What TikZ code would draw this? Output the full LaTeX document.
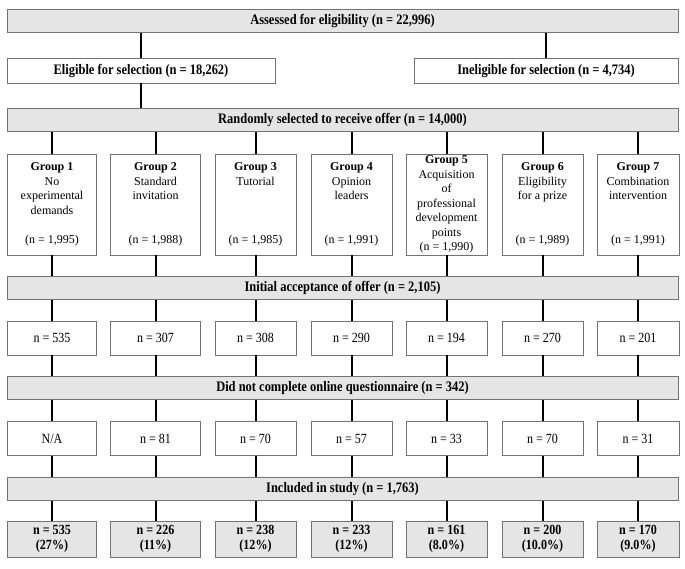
\documentclass[tikz,border=0pt]{standalone}
\usepackage{fontspec}
\setmainfont{Liberation Serif}
\newfontfamily\narrowfont[FakeStretch=0.86]{Liberation Serif}
\usepackage{tikz}

\begin{document}
\begin{tikzpicture}[x=1pt,y=-1pt,
    bar/.style={draw=black!55,fill=black!10,line width=0.8pt,inner sep=0pt,
      minimum width=671pt,minimum height=23pt,
      font=\narrowfont\bfseries\fontsize{14.5}{16}\selectfont},
    box/.style={draw=black!55,fill=white,line width=0.8pt,inner sep=0pt,
      minimum width=81pt,minimum height=34pt,align=center,
      font=\narrowfont\fontsize{14}{16}\selectfont},
    grp/.style={box,minimum height=101pt,font=\fontsize{12}{14.5}\selectfont},
    res/.style={box,fill=black!10,minimum height=36pt,
      font=\narrowfont\bfseries\fontsize{14}{15}\selectfont},
    link/.style={line width=2pt}]
  \useasboundingbox (0,0) rectangle (685,568);

  \node[bar] (assessed) at (342.5,21) {Assessed for eligibility (n = 22,996)};
  \node[bar,minimum width=268pt,minimum height=25pt,fill=white] (eligible) at (141,70.5) {Eligible for selection (n = 18,262)};
  \node[bar,minimum width=264pt,minimum height=25pt,fill=white] (ineligible) at (546,70.5) {Ineligible for selection (n = 4,734)};
  \node[bar] (randomly) at (342.5,120) {Randomly selected to receive offer (n = 14,000)};

  % groups
  \node[grp,minimum width=89pt] (grp1) at (52,204.5) {\textbf{Group 1}\\No\\experimental\\demands\\[14.5pt](n = 1,995)};
  \node[grp,minimum width=90pt] (grp2) at (155.5,204.5) {\textbf{Group 2}\\Standard\\invitation\\[29pt](n = 1,988)};
  \node[grp] (grp3) at (255.5,204.5) {\textbf{Group 3}\\Tutorial\\[43.5pt](n = 1,985)};
  \node[grp] (grp4) at (351.5,204.5) {\textbf{Group 4}\\Opinion\\leaders\\[29pt](n = 1,991)};
  \node[grp] (grp5) at (446.5,204.5) {\textbf{Group 5}\\Acquisition\\of\\professional\\development\\points\\(n = 1,990)};
  \node[grp] (grp6) at (542.5,204.5) {\textbf{Group 6}\\Eligibility\\for a prize\\[29pt](n = 1,989)};
  \node[grp,minimum width=82pt] (grp7) at (638,204.5) {\textbf{Group 7}\\Combination\\intervention\\[29pt](n = 1,991)};

  \node[bar] (accept) at (342.5,288) {Initial acceptance of offer (n = 2,105)};

  \node[box,minimum width=89pt] (acc1) at (52,338) {n = 535};
  \node[box,minimum width=90pt] (acc2) at (155.5,338) {n = 307};
  \node[box] (acc3) at (255.5,338) {n = 308};
  \node[box] (acc4) at (351.5,338) {n = 290};
  \node[box] (acc5) at (446.5,338) {n = 194};
  \node[box] (acc6) at (542.5,338) {n = 270};
  \node[box,minimum width=82pt] (acc7) at (638,338) {n = 201};

  \node[bar] (noquest) at (342.5,388) {Did not complete online questionnaire (n = 342)};

  \node[box,minimum width=89pt] (nq1) at (52,438.5) {N/A};
  \node[box,minimum width=90pt] (nq2) at (155.5,438.5) {n = 81};
  \node[box] (nq3) at (255.5,438.5) {n = 70};
  \node[box] (nq4) at (351.5,438.5) {n = 57};
  \node[box] (nq5) at (446.5,438.5) {n = 33};
  \node[box] (nq6) at (542.5,438.5) {n = 70};
  \node[box,minimum width=82pt] (nq7) at (638,438.5) {n = 31};

  \node[bar] (included) at (342.5,489) {Included in study (n = 1,763)};

  \node[res,minimum width=89pt] (inc1) at (52,539) {n = 535\\(27\%)};
  \node[res,minimum width=90pt] (inc2) at (155.5,539) {n = 226\\(11\%)};
  \node[res] (inc3) at (255.5,539) {n = 238\\(12\%)};
  \node[res] (inc4) at (351.5,539) {n = 233\\(12\%)};
  \node[res] (inc5) at (446.5,539) {n = 161\\(8.0\%)};
  \node[res] (inc6) at (542.5,539) {n = 200\\(10.0\%)};
  \node[res,minimum width=82pt] (inc7) at (638,539) {n = 170\\(9.0\%)};

  % connectors
  \draw[link] (assessed.south -| eligible.north) -- (eligible.north);
  \draw[link] (assessed.south -| ineligible.north) -- (ineligible.north);
  \draw[link] (eligible.south) -- (eligible.south |- randomly.north);
  \foreach \i in {1,...,7} {
    \draw[link] (randomly.south -| grp\i.north) -- (grp\i.north);
    \draw[link] (grp\i.south) -- (grp\i.south |- accept.north);
    \draw[link] (accept.south -| acc\i.north) -- (acc\i.north);
    \draw[link] (acc\i.south) -- (acc\i.south |- noquest.north);
    \draw[link] (noquest.south -| nq\i.north) -- (nq\i.north);
    \draw[link] (nq\i.south) -- (nq\i.south |- included.north);
    \draw[link] (included.south -| inc\i.north) -- (inc\i.north);
  }
\end{tikzpicture}
\end{document}
